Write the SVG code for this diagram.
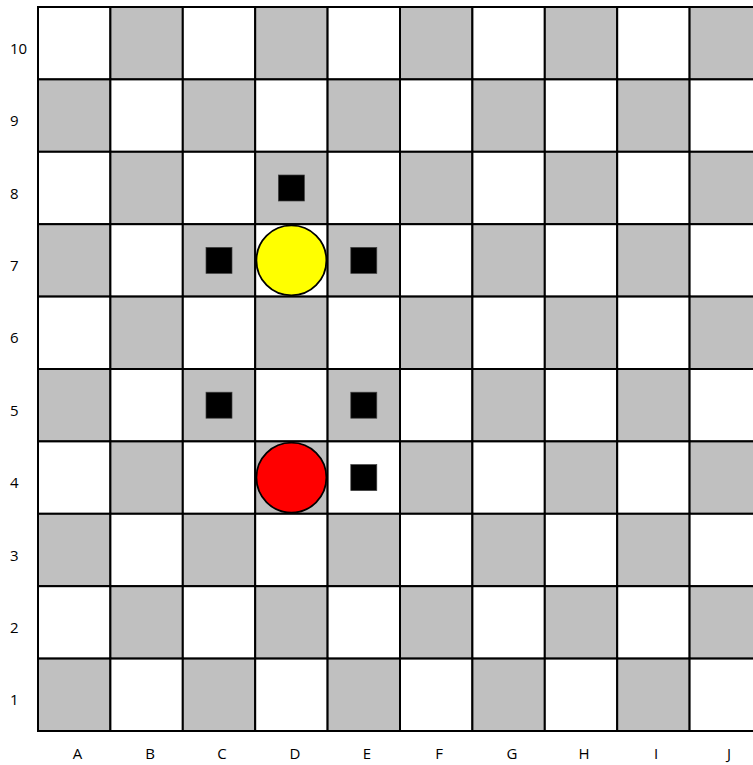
<svg xmlns="http://www.w3.org/2000/svg" width="753" height="765" viewBox="0 0 753 765">
<style>
.w{fill:#FFFFFF;stroke:#000;stroke-width:2}
.g{fill:#C0C0C0;stroke:#000;stroke-width:2}
.p{fill:#000;stroke:#404040;stroke-width:0.7}
.t{font-family:"Open Sans","Liberation Sans",sans-serif;font-size:15px;fill:#000}
.c{text-anchor:middle}
</style>
<rect x="0" y="0" width="753" height="765" fill="#FFFFFF"/>
<g id="board">
<rect class="w" x="38" y="7" width="72.4" height="72.4"/><rect class="g" x="110.4" y="7" width="72.4" height="72.4"/><rect class="w" x="182.8" y="7" width="72.4" height="72.4"/><rect class="g" x="255.2" y="7" width="72.4" height="72.4"/><rect class="w" x="327.6" y="7" width="72.4" height="72.4"/><rect class="g" x="400" y="7" width="72.4" height="72.4"/><rect class="w" x="472.4" y="7" width="72.4" height="72.4"/><rect class="g" x="544.8" y="7" width="72.4" height="72.4"/><rect class="w" x="617.2" y="7" width="72.4" height="72.4"/><rect class="g" x="689.6" y="7" width="72.4" height="72.4"/>
<rect class="g" x="38" y="79.4" width="72.4" height="72.4"/><rect class="w" x="110.4" y="79.4" width="72.4" height="72.4"/><rect class="g" x="182.8" y="79.4" width="72.4" height="72.4"/><rect class="w" x="255.2" y="79.4" width="72.4" height="72.4"/><rect class="g" x="327.6" y="79.4" width="72.4" height="72.4"/><rect class="w" x="400" y="79.4" width="72.4" height="72.4"/><rect class="g" x="472.4" y="79.4" width="72.4" height="72.4"/><rect class="w" x="544.8" y="79.4" width="72.4" height="72.4"/><rect class="g" x="617.2" y="79.4" width="72.4" height="72.4"/><rect class="w" x="689.6" y="79.4" width="72.4" height="72.4"/>
<rect class="w" x="38" y="151.8" width="72.4" height="72.4"/><rect class="g" x="110.4" y="151.8" width="72.4" height="72.4"/><rect class="w" x="182.8" y="151.8" width="72.4" height="72.4"/><rect class="g" x="255.2" y="151.8" width="72.4" height="72.4"/><rect class="w" x="327.6" y="151.8" width="72.4" height="72.4"/><rect class="g" x="400" y="151.8" width="72.4" height="72.4"/><rect class="w" x="472.4" y="151.8" width="72.4" height="72.4"/><rect class="g" x="544.8" y="151.8" width="72.4" height="72.4"/><rect class="w" x="617.2" y="151.8" width="72.4" height="72.4"/><rect class="g" x="689.6" y="151.8" width="72.4" height="72.4"/>
<rect class="g" x="38" y="224.2" width="72.4" height="72.4"/><rect class="w" x="110.4" y="224.2" width="72.4" height="72.4"/><rect class="g" x="182.8" y="224.2" width="72.4" height="72.4"/><rect class="w" x="255.2" y="224.2" width="72.4" height="72.4"/><rect class="g" x="327.6" y="224.2" width="72.4" height="72.4"/><rect class="w" x="400" y="224.2" width="72.4" height="72.4"/><rect class="g" x="472.4" y="224.2" width="72.4" height="72.4"/><rect class="w" x="544.8" y="224.2" width="72.4" height="72.4"/><rect class="g" x="617.2" y="224.2" width="72.4" height="72.4"/><rect class="w" x="689.6" y="224.2" width="72.4" height="72.4"/>
<rect class="w" x="38" y="296.6" width="72.4" height="72.4"/><rect class="g" x="110.4" y="296.6" width="72.4" height="72.4"/><rect class="w" x="182.8" y="296.6" width="72.4" height="72.4"/><rect class="g" x="255.2" y="296.6" width="72.4" height="72.4"/><rect class="w" x="327.6" y="296.6" width="72.4" height="72.4"/><rect class="g" x="400" y="296.6" width="72.4" height="72.4"/><rect class="w" x="472.4" y="296.6" width="72.4" height="72.4"/><rect class="g" x="544.8" y="296.6" width="72.4" height="72.4"/><rect class="w" x="617.2" y="296.6" width="72.4" height="72.4"/><rect class="g" x="689.6" y="296.6" width="72.4" height="72.4"/>
<rect class="g" x="38" y="369" width="72.4" height="72.4"/><rect class="w" x="110.4" y="369" width="72.4" height="72.4"/><rect class="g" x="182.8" y="369" width="72.4" height="72.4"/><rect class="w" x="255.2" y="369" width="72.4" height="72.4"/><rect class="g" x="327.6" y="369" width="72.4" height="72.4"/><rect class="w" x="400" y="369" width="72.4" height="72.4"/><rect class="g" x="472.4" y="369" width="72.4" height="72.4"/><rect class="w" x="544.8" y="369" width="72.4" height="72.4"/><rect class="g" x="617.2" y="369" width="72.4" height="72.4"/><rect class="w" x="689.6" y="369" width="72.4" height="72.4"/>
<rect class="w" x="38" y="441.4" width="72.4" height="72.4"/><rect class="g" x="110.4" y="441.4" width="72.4" height="72.4"/><rect class="w" x="182.8" y="441.4" width="72.4" height="72.4"/><rect class="g" x="255.2" y="441.4" width="72.4" height="72.4"/><rect class="w" x="327.6" y="441.4" width="72.4" height="72.4"/><rect class="g" x="400" y="441.4" width="72.4" height="72.4"/><rect class="w" x="472.4" y="441.4" width="72.4" height="72.4"/><rect class="g" x="544.8" y="441.4" width="72.4" height="72.4"/><rect class="w" x="617.2" y="441.4" width="72.4" height="72.4"/><rect class="g" x="689.6" y="441.4" width="72.4" height="72.4"/>
<rect class="g" x="38" y="513.8" width="72.4" height="72.4"/><rect class="w" x="110.4" y="513.8" width="72.4" height="72.4"/><rect class="g" x="182.8" y="513.8" width="72.4" height="72.4"/><rect class="w" x="255.2" y="513.8" width="72.4" height="72.4"/><rect class="g" x="327.6" y="513.8" width="72.4" height="72.4"/><rect class="w" x="400" y="513.8" width="72.4" height="72.4"/><rect class="g" x="472.4" y="513.8" width="72.4" height="72.4"/><rect class="w" x="544.8" y="513.8" width="72.4" height="72.4"/><rect class="g" x="617.2" y="513.8" width="72.4" height="72.4"/><rect class="w" x="689.6" y="513.8" width="72.4" height="72.4"/>
<rect class="w" x="38" y="586.2" width="72.4" height="72.4"/><rect class="g" x="110.4" y="586.2" width="72.4" height="72.4"/><rect class="w" x="182.8" y="586.2" width="72.4" height="72.4"/><rect class="g" x="255.2" y="586.2" width="72.4" height="72.4"/><rect class="w" x="327.6" y="586.2" width="72.4" height="72.4"/><rect class="g" x="400" y="586.2" width="72.4" height="72.4"/><rect class="w" x="472.4" y="586.2" width="72.4" height="72.4"/><rect class="g" x="544.8" y="586.2" width="72.4" height="72.4"/><rect class="w" x="617.2" y="586.2" width="72.4" height="72.4"/><rect class="g" x="689.6" y="586.2" width="72.4" height="72.4"/>
<rect class="g" x="38" y="658.6" width="72.4" height="72.4"/><rect class="w" x="110.4" y="658.6" width="72.4" height="72.4"/><rect class="g" x="182.8" y="658.6" width="72.4" height="72.4"/><rect class="w" x="255.2" y="658.6" width="72.4" height="72.4"/><rect class="g" x="327.6" y="658.6" width="72.4" height="72.4"/><rect class="w" x="400" y="658.6" width="72.4" height="72.4"/><rect class="g" x="472.4" y="658.6" width="72.4" height="72.4"/><rect class="w" x="544.8" y="658.6" width="72.4" height="72.4"/><rect class="g" x="617.2" y="658.6" width="72.4" height="72.4"/><rect class="w" x="689.6" y="658.6" width="72.4" height="72.4"/>
</g>
<g id="markers">
<rect class="p" x="278.4" y="175" width="26" height="26"/>
<rect class="p" x="206" y="247.4" width="26" height="26"/>
<rect class="p" x="350.8" y="247.4" width="26" height="26"/>
<rect class="p" x="206" y="392.2" width="26" height="26"/>
<rect class="p" x="350.8" y="392.2" width="26" height="26"/>
<rect class="p" x="350.8" y="464.6" width="26" height="26"/>
</g>
<g id="yellow-piece"><circle cx="291.4" cy="260.4" r="35" fill="#FFFF00" stroke="#000" stroke-width="1.8"/></g>
<g id="red-piece"><circle cx="291.4" cy="477.6" r="35" fill="#FF0000" stroke="#000" stroke-width="1.8"/></g>
<g id="row-labels" class="t">
<text x="10" y="54">10</text><text x="10" y="126">9</text><text x="10" y="199">8</text><text x="10" y="271">7</text><text x="10" y="343">6</text><text x="10" y="416">5</text><text x="10" y="488">4</text><text x="10" y="561">3</text><text x="10" y="633">2</text><text x="10" y="705">1</text>
</g>
<g id="col-labels" class="t c">
<text x="77.5" y="759">A</text><text x="150" y="759">B</text><text x="222" y="759">C</text><text x="295" y="759">D</text><text x="367" y="759">E</text><text x="439" y="759">F</text><text x="512" y="759">G</text><text x="584" y="759">H</text><text x="656" y="759">I</text><text x="729" y="759">J</text>
</g>
</svg>
